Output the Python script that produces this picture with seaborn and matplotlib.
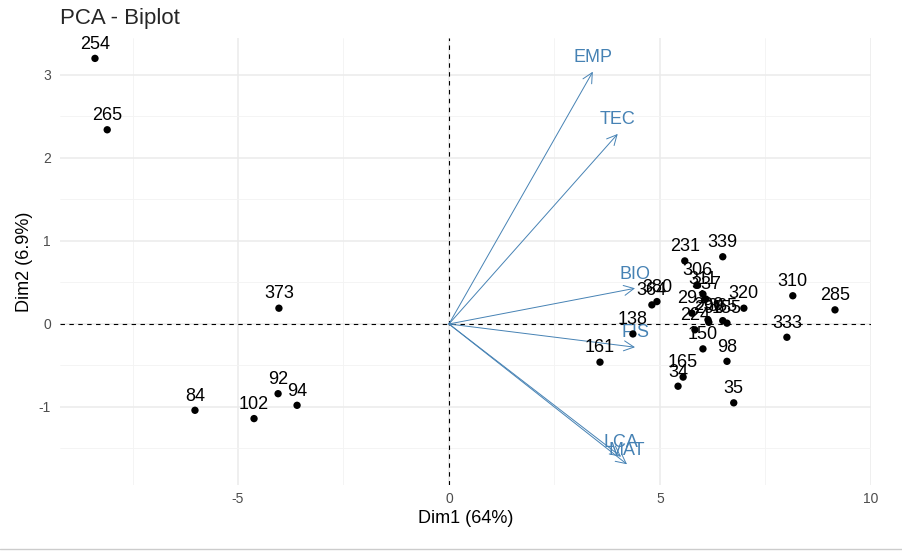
import numpy as np
import pandas as pd
import matplotlib
matplotlib.use("Agg")
import matplotlib.pyplot as plt
import seaborn as sns

# individuos (coordenadas)
ind_labels = ["254", "265", "373", "84", "102", "92", "94", "161", "138", "364", "380",
              "231", "339", "306", "311", "337", "291", "224", "290", "296", "365", "155",
              "320", "150", "98", "35", "165", "34", "310", "285", "333"]
dim1 = [-8.39, -8.10, -4.03, -6.02, -4.62, -4.05, -3.60, 3.58, 4.36, 4.81, 4.93,
        5.59, 6.49, 5.88, 6.02, 6.09, 5.76, 5.83, 6.14, 6.16, 6.49, 6.59,
        6.99, 6.02, 6.59, 6.75, 5.55, 5.43, 8.15, 9.15, 8.01]
dim2 = [3.20, 2.34, 0.19, -1.04, -1.14, -0.84, -0.98, -0.46, -0.12, 0.23, 0.27,
        0.76, 0.81, 0.47, 0.36, 0.30, 0.13, -0.07, 0.05, 0.02, 0.04, 0.01,
        0.19, -0.30, -0.45, -0.95, -0.64, -0.75, 0.34, 0.17, -0.16]

# variables
var_labels = ["EMP", "TEC", "BIO", "FIS", "LCA", "MAT"]
var_x = [3.41, 4.00, 4.41, 4.41, 4.08, 4.22]
var_y = [3.04, 2.29, 0.43, -0.28, -1.60, -1.69]

df = pd.DataFrame({"Dim1": dim1, "Dim2": dim2, "label": ind_labels})

sns.set_theme(style="whitegrid")
plt.rcParams['font.family'] = ['Liberation Sans', 'DejaVu Sans']
plt.rcParams['axes.unicode_minus'] = False

fig = plt.figure(figsize=(9.03, 5.52), dpi=100)
ax = fig.add_axes([0.0664, 0.1214, 0.898, 0.8098])

ax.set_xlim(-9.22, 10.0)
ax.set_ylim(-1.94, 3.446)
ax.set_xticks([-5, 0, 5, 10])
ax.set_yticks([-1, 0, 1, 2, 3])
ax.set_xticks([-7.5, -2.5, 2.5, 7.5], minor=True)
ax.set_yticks([-1.5, -0.5, 0.5, 1.5, 2.5], minor=True)
ax.grid(which='major', color='#EBEBEB', lw=1.1)
ax.grid(which='minor', color='#F3F3F3', lw=0.6)
ax.set_axisbelow(True)
for s in ax.spines.values():
    s.set_visible(False)
ax.tick_params(axis='both', which='major', labelsize=10,
               length=3, width=0.6, color='#333333', labelcolor='#4D4D4D')
ax.tick_params(axis='x', length=0, pad=5)
ax.tick_params(axis='both', which='minor', length=0)

ax.axhline(0, color='black', lw=0.8, ls=(0, (4, 4)), zorder=1)
ax.axvline(0, color='black', lw=0.8, ls=(0, (4, 4)), zorder=1)

# flechas de variables
for lab, vx, vy in zip(var_labels, var_x, var_y):
    ax.annotate("", xy=(vx, vy), xytext=(0, 0),
                arrowprops=dict(arrowstyle="->,head_length=0.6,head_width=0.3",
                                color='#4682B4', lw=0.7, shrinkA=0, shrinkB=0))
    ax.annotate(lab, xy=(vx, vy), xytext=(0, 7), textcoords='offset points',
                ha='center', va='baseline', color='#4682B4', fontsize=13)

sns.scatterplot(data=df, x="Dim1", y="Dim2", color='black', s=28,
                edgecolor='none', ax=ax, zorder=3)
for _, r in df.iterrows():
    ax.annotate(r["label"], xy=(r["Dim1"], r["Dim2"]), xytext=(0, 7),
                textcoords='offset points', ha='center', va='baseline',
                color='black', fontsize=13, zorder=4)

ax.set_xlabel("Dim1 (64%)", fontsize=13, color='black', labelpad=3)
ax.set_ylabel("Dim2 (6.9%)", fontsize=13, color='black', labelpad=4)
fig.text(0.066, 0.967, "PCA - Biplot", fontsize=16, ha='left', va='center')

fig.add_artist(plt.Line2D([0, 1], [0.006, 0.006], color='#CCCCCC', lw=1))

fig.savefig("out.png", dpi=100)
